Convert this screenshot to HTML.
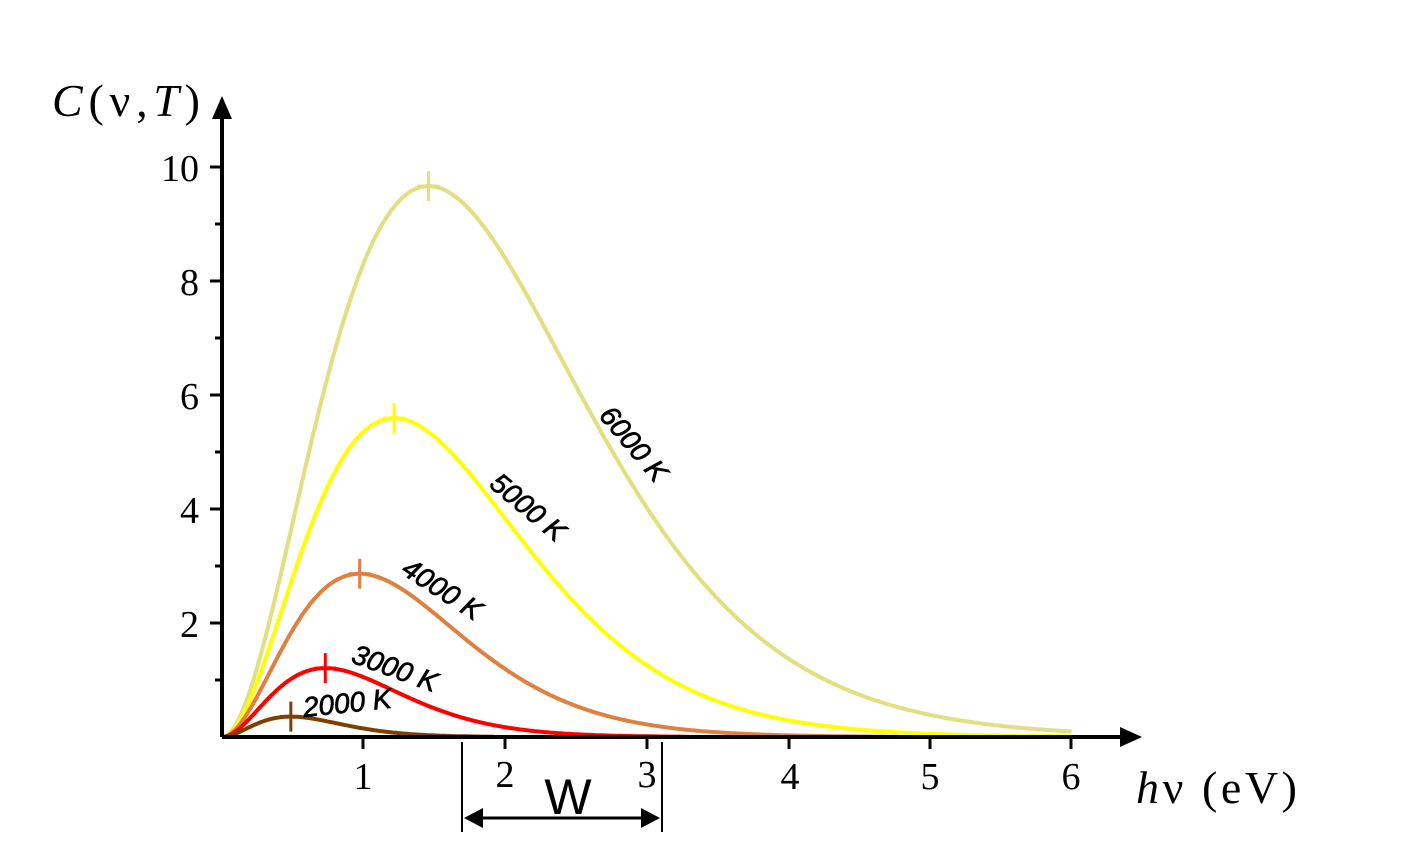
<!DOCTYPE html>
<html><head><meta charset="utf-8"><style>
html,body{margin:0;padding:0;background:#fff;}
svg{display:block;}
.t{font-family:"Liberation Serif",serif;font-size:38px;fill:#000;}
.l{font-family:"Liberation Sans",sans-serif;font-size:28px;fill:#000;font-style:italic;stroke:#000;stroke-width:0.7;}
</style></head><body>
<svg id="s" width="1412" height="866" viewBox="0 0 1412 866" xmlns="http://www.w3.org/2000/svg">
<g id="curves" fill="none" stroke-width="4"></g>
<line x1="222" y1="737" x2="1125" y2="737" stroke="#000" stroke-width="4"/>
<polygon points="1142,737 1120,727 1120,747" fill="#000"/>
<line x1="222" y1="737" x2="222" y2="115" stroke="#000" stroke-width="4"/>
<polygon points="222,96 212,119 232,119" fill="#000"/>
<g stroke="#000" stroke-width="3">
<line x1="210" y1="167" x2="222" y2="167"/><line x1="210" y1="281" x2="222" y2="281"/>
<line x1="210" y1="395" x2="222" y2="395"/><line x1="210" y1="509" x2="222" y2="509"/>
<line x1="210" y1="623" x2="222" y2="623"/>
<line x1="215" y1="224" x2="222" y2="224"/><line x1="215" y1="338" x2="222" y2="338"/>
<line x1="215" y1="452" x2="222" y2="452"/><line x1="215" y1="566" x2="222" y2="566"/>
<line x1="215" y1="680" x2="222" y2="680"/>
<line x1="363" y1="737" x2="363" y2="749"/><line x1="505" y1="737" x2="505" y2="749"/>
<line x1="647" y1="737" x2="647" y2="749"/><line x1="789" y1="737" x2="789" y2="749"/>
<line x1="930" y1="737" x2="930" y2="749"/><line x1="1071" y1="737" x2="1071" y2="749"/>
</g>
<g class="t" text-anchor="end">
<text x="199" y="181">10</text><text x="199" y="295">8</text><text x="199" y="409">6</text>
<text x="199" y="523">4</text><text x="199" y="637">2</text>
</g>
<g class="t" text-anchor="middle">
<text x="363" y="789">1</text><text x="505" y="787">2</text><text x="647" y="787">3</text>
<text x="790" y="789">4</text><text x="930" y="789">5</text><text x="1071" y="789">6</text>
</g>
<text x="52" y="116" textLength="148" style="font-family:'Liberation Serif',serif;font-size:46px"><tspan font-style="italic">C</tspan>(ν,<tspan font-style="italic">T</tspan>)</text>
<text x="1136" y="803" textLength="161" style="font-family:'Liberation Serif',serif;font-size:46px"><tspan font-style="italic">h</tspan>ν (eV)</text>
<line x1="462" y1="742" x2="462" y2="832" stroke="#000" stroke-width="2"/>
<line x1="662" y1="742" x2="662" y2="832" stroke="#000" stroke-width="2"/>
<line x1="475" y1="818" x2="650" y2="818" stroke="#000" stroke-width="3"/>
<polygon points="464,818 483,808 483,828" fill="#000"/>
<polygon points="660,818 641,808 641,828" fill="#000"/>
<text x="568" y="814" text-anchor="middle" style="font-family:'Liberation Sans',sans-serif;font-size:50px">W</text>
<text class="l" transform="translate(598,416) rotate(50)">6000 K</text>
<text class="l" transform="translate(488,486) rotate(40)">5000 K</text>
<text class="l" transform="translate(400,573) rotate(33)">4000 K</text>
<text class="l" transform="translate(350,662) rotate(20)">3000 K</text>
<text class="l" transform="translate(304,717) rotate(-6)">2000 K</text>
</svg>
<script>
var g=document.getElementById('curves');
var T=[[6000,'#e1df7f'],[5000,'#ffff00'],[4000,'#e08040'],[3000,'#ff0000'],[2000,'#7f3f00']];
var A=49.2,k=8.617e-5;
function X(x){return 222+141.6*x;} function Y(c){return 737-57*c;}
T.forEach(function(t){
 var kT=k*t[0],d='M222,737';
 for(var x=0.01;x<=6.0;x+=0.01){var c=A*x*x*x/(Math.exp(x/kT)-1);
  if(c<0.005&&x>1)break;d+=' L'+X(x).toFixed(1)+','+Y(c).toFixed(1);}
 var p=document.createElementNS('http://www.w3.org/2000/svg','path');
 p.setAttribute('d',d);p.setAttribute('stroke',t[1]);g.appendChild(p);
 var xp=2.821*kT,cp=A*xp*xp*xp/(Math.exp(2.821)-1);
 var px=X(xp),py=Y(cp);
 var m=document.createElementNS('http://www.w3.org/2000/svg','path');
 m.setAttribute('d','M'+(px-11)+','+py+' H'+(px+11)+' M'+px+','+(py-15)+' V'+(py+15));
 m.setAttribute('stroke',t[1]);m.setAttribute('stroke-width','3');g.appendChild(m);
});
</script>
</body></html>
